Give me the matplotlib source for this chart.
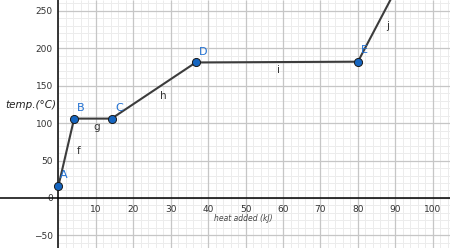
import numpy as np
import matplotlib
matplotlib.use('Agg')
import matplotlib.pyplot as plt
from matplotlib.ticker import MultipleLocator, FuncFormatter

# points
names = ['A', 'B', 'C', 'D', 'E']
heat = [0, 4.2, 14.2, 36.7, 80]
temp = [16, 106, 106, 181, 182]
# segment j leaves the top of the view
j_end = (90, 277)
seg_names = ['f', 'g', 'h', 'i', 'j']

x0, x1 = -15.6, 104.6
y0, y1 = -66.8, 264.4

fig = plt.figure(figsize=(4.5, 2.48), dpi=100)
ax = fig.add_axes([0, 0, 1, 1])
ax.set_xlim(x0, x1)
ax.set_ylim(y0, y1)

# grid only on the right of the y axis
mx = np.arange(0, x1, 2)
my = np.arange(-60, y1, 10)
ax.vlines(mx, y0, y1, color='#ececec', lw=0.7, zorder=0)
ax.hlines(my, 0, x1, color='#ececec', lw=0.7, zorder=0)
ax.vlines(np.arange(10, x1, 10), y0, y1, color='#c6c6c6', lw=0.9, zorder=0.1)
ax.hlines(np.arange(-50, y1, 50), 0, x1, color='#c6c6c6', lw=0.9, zorder=0.1)

ax.xaxis.set_major_locator(MultipleLocator(10))
ax.yaxis.set_major_locator(MultipleLocator(50))
for s in ['top', 'right']:
    ax.spines[s].set_visible(False)
ax.spines['left'].set_position(('data', 0))
ax.spines['bottom'].set_position(('data', 0))
ax.spines['left'].set_linewidth(1.1)
ax.spines['bottom'].set_linewidth(1.1)
ax.tick_params(which='both', length=0, labelsize=6.5, colors='#333333')
ax.tick_params(axis='x', pad=5)
ax.tick_params(axis='y', pad=4)
ax.xaxis.set_major_formatter(FuncFormatter(lambda v, p: '' if v <= 0 else '%d' % v))
ax.yaxis.set_major_formatter(FuncFormatter(lambda v, p: ('\u2212%d' % -v) if v < 0 else '%d' % v))

xs = heat + [j_end[0]]
ys = temp + [j_end[1]]
ax.plot(xs, ys, color='#3c3c3c', lw=1.5, zorder=3)
ax.scatter(heat, temp, s=34, color='#1565c0', edgecolors='#1a1a1a', linewidths=0.7, zorder=4)

pt_lab = [(1.5, 30.7), (5.9, 120), (16.2, 120), (38.6, 195), (81.7, 197.6)]
for n, (x, y) in zip(names, pt_lab):
    ax.text(x, y, n, color='#1f6fd1', fontsize=8, ha='center', va='center')

seg_lab = [(5.4, 62.7), (10.1, 94.8), (28, 136), (58.8, 171), (88, 229.6)]
for n, (x, y) in zip(seg_names, seg_lab):
    ax.text(x, y, n, color='#333333', fontsize=7.5, ha='center', va='center')

ax.text(-7.3, 124, 'temp.(\u00b0C)', fontsize=7.5, style='italic', color='#222222',
        ha='center', va='center')
ax.text(49.3, -28, 'heat added (kJ)', fontsize=5.5, style='italic', color='#444444',
        ha='center', va='center')

fig.savefig('out.png', dpi=100)
